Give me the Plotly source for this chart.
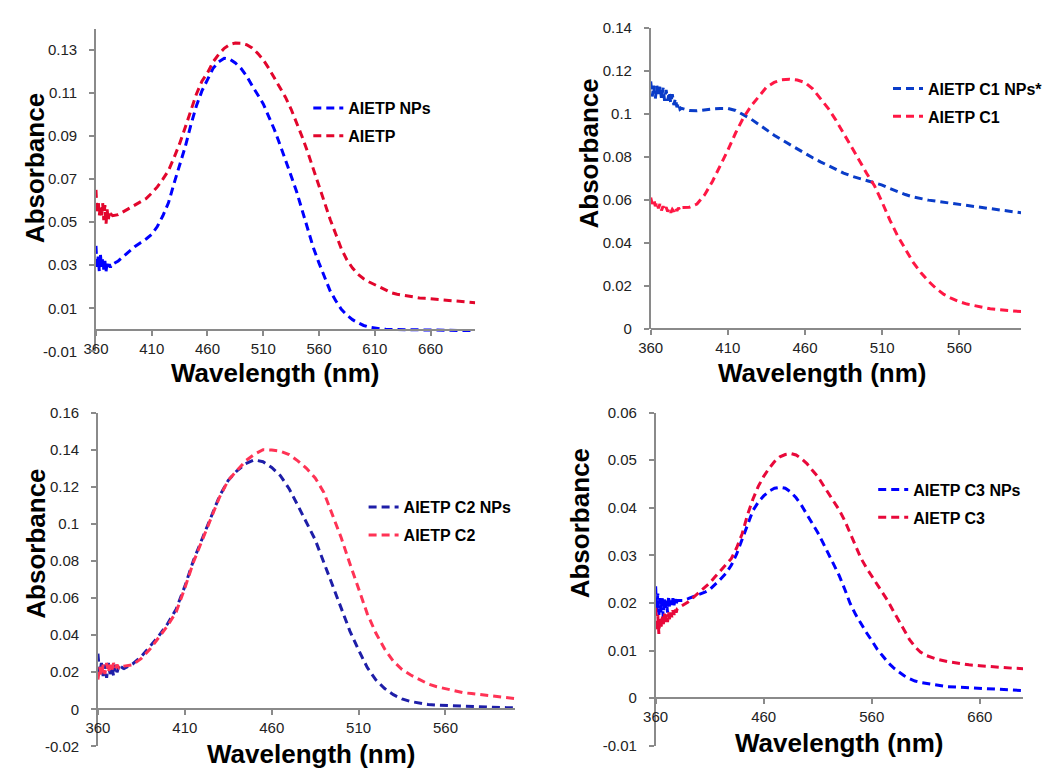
import plotly.graph_objects as go

W, H = 1049, 773

# ---------------- data ----------------
# Panel 1: AIETP NPs / AIETP
p1_np_wl = [360, 361, 362, 363, 364, 365, 366, 367, 368, 369, 370, 371, 372, 373, 374,
            375, 380, 385, 390, 395, 400, 405, 410, 415, 420, 425, 430, 435, 440, 445, 450,
            455, 460, 465, 470, 475, 480, 485, 490, 495, 500, 505, 510, 515, 520, 525, 530,
            535, 540, 545, 550, 555, 560, 565, 570, 575, 580, 585, 590, 595, 600, 605, 610,
            615, 620, 630, 640, 650, 660, 670, 680, 690, 700]
p1_np_abs = [0.039, 0.029, 0.034, 0.027, 0.035, 0.029, 0.033, 0.028, 0.032, 0.027, 0.031, 0.029, 0.0305, 0.029, 0.0305,
             0.0305, 0.032, 0.0343, 0.0366, 0.0387, 0.0405, 0.0422, 0.0444, 0.048, 0.053, 0.059, 0.068, 0.0765, 0.085, 0.095, 0.104,
             0.111, 0.1164, 0.1215, 0.1245, 0.1262, 0.1258, 0.124, 0.1215, 0.118, 0.1135, 0.109, 0.105, 0.099, 0.093, 0.086, 0.079,
             0.0715, 0.064, 0.055, 0.046, 0.038, 0.031, 0.024, 0.018, 0.0135, 0.0095, 0.0068, 0.0047, 0.0032, 0.002, 0.0012, 0.0007,
             0.0004, 0.0002, 0.0001, 0.0, -0.0001, -0.0002, -0.0003, -0.0003, -0.0004, -0.0004]
p1_wl = [360, 361, 362, 363, 364, 365, 366, 367, 368, 369, 370, 371, 372, 373, 374,
         375, 380, 385, 390, 395, 400, 405, 410, 415, 420, 425, 430, 435, 440, 445, 450,
         455, 460, 465, 470, 475, 480, 485, 490, 495, 500, 505, 510, 515, 520, 525, 530,
         535, 540, 545, 550, 555, 560, 565, 570, 575, 580, 585, 590, 595, 600, 605, 610,
         615, 620, 625, 630, 635, 640, 645, 650, 655, 660, 665, 670, 675, 680, 685, 690, 695, 700]
p1_abs = [0.065, 0.054, 0.060, 0.053, 0.058, 0.052, 0.059, 0.051, 0.058, 0.049, 0.056, 0.051, 0.054, 0.052, 0.0535,
          0.053, 0.0535, 0.055, 0.0565, 0.058, 0.0595, 0.061, 0.0635, 0.0664, 0.070, 0.074, 0.080, 0.0865, 0.094, 0.102, 0.1095,
          0.1155, 0.1194, 0.1245, 0.128, 0.1308, 0.1326, 0.1333, 0.1332, 0.1325, 0.131, 0.1285, 0.1255, 0.1215, 0.117, 0.1125, 0.108,
          0.1025, 0.0962, 0.0895, 0.0823, 0.0745, 0.067, 0.0587, 0.0513, 0.0445, 0.0376, 0.0325, 0.0287, 0.0258, 0.0237, 0.0222, 0.0209,
          0.0195, 0.0182, 0.0172, 0.0165, 0.016, 0.0155, 0.0151, 0.0148, 0.0146, 0.0144, 0.0142, 0.014, 0.0138, 0.0136, 0.0134, 0.0131, 0.0129, 0.0126]

# Panel 2: AIETP C1 NPs* / AIETP C1
p2_wl = [360, 361, 362, 363, 364, 365, 366, 367, 368, 369, 370, 371, 372, 373, 374, 375, 376, 377, 378, 379, 380,
         385, 390, 395, 400, 405, 410, 415, 420, 425, 430, 435, 440, 445, 450, 455, 460, 465, 470, 475, 480,
         485, 490, 495, 500, 505, 510, 515, 520, 525, 530, 535, 540, 545, 550, 555, 560, 565, 570, 575, 580,
         585, 590, 595, 600]
p2_np_abs = [0.115, 0.108, 0.113, 0.107, 0.113, 0.108, 0.113, 0.107, 0.112, 0.106, 0.111, 0.106, 0.110, 0.105, 0.109, 0.104, 0.107, 0.103, 0.105, 0.102, 0.1025,
             0.1015, 0.1013, 0.1018, 0.1022, 0.1024, 0.1024, 0.1015, 0.0995, 0.0975, 0.095, 0.0923, 0.09, 0.0878, 0.0857, 0.0835, 0.0815, 0.0795, 0.0776, 0.0758, 0.0741,
             0.0724, 0.071, 0.0699, 0.069, 0.068, 0.0668, 0.0652, 0.0637, 0.0624, 0.0613, 0.0605, 0.0598, 0.0593, 0.0588, 0.0584, 0.058, 0.0575, 0.057, 0.0564, 0.0559,
             0.0554, 0.0548, 0.0543, 0.0539]
p2_abs = [0.061, 0.058, 0.060, 0.057, 0.059, 0.056, 0.058, 0.055, 0.057, 0.055, 0.0565, 0.0545, 0.056, 0.054, 0.0555, 0.0545, 0.0565, 0.0548, 0.0562, 0.055, 0.0563,
          0.0565, 0.058, 0.0623, 0.0685, 0.0755, 0.083, 0.091, 0.098, 0.1035, 0.108, 0.1123, 0.1145, 0.1157, 0.116, 0.1156, 0.1145, 0.1115, 0.107, 0.1025, 0.097,
          0.091, 0.0845, 0.0785, 0.0722, 0.0665, 0.0588, 0.0505, 0.0432, 0.037, 0.031, 0.0262, 0.0221, 0.0187, 0.016, 0.0141, 0.0126, 0.0115, 0.0107, 0.0099, 0.0093,
          0.0089, 0.0085, 0.0082, 0.008]

# Panel 3: AIETP C2 NPs / AIETP C2
p3_wl = [360, 361, 362, 363, 364, 365, 366, 367, 368, 369, 370, 371, 372, 373, 374, 375,
         380, 385, 390, 395, 400, 405, 410, 415, 420, 425, 430, 435, 440, 445, 450, 455, 460,
         465, 470, 475, 480, 485, 490, 495, 500, 505, 510, 515, 520, 525, 530, 535, 540,
         545, 550, 555, 560, 565, 570, 575, 580, 585, 590, 595, 600]
p3_np_abs = [0.030, 0.019, 0.025, 0.018, 0.024, 0.017, 0.025, 0.019, 0.023, 0.018, 0.024, 0.020, 0.023, 0.021, 0.0225, 0.022,
             0.0245, 0.0285, 0.034, 0.0395, 0.046, 0.054, 0.0663, 0.0804, 0.092, 0.1035, 0.115, 0.1235, 0.1286, 0.1325, 0.1345, 0.1335, 0.1304,
             0.126, 0.119, 0.110, 0.101, 0.0915, 0.0792, 0.0665, 0.054, 0.0422, 0.032, 0.0225, 0.0158, 0.0112, 0.0079, 0.0056, 0.0042,
             0.0033, 0.0026, 0.0023, 0.0021, 0.0018, 0.0016, 0.0014, 0.0013, 0.0012, 0.001, 0.0009, 0.0009]
p3_abs = [0.016, 0.023, 0.018, 0.024, 0.019, 0.025, 0.020, 0.024, 0.021, 0.025, 0.022, 0.024, 0.0225, 0.0235, 0.023, 0.0233,
          0.024, 0.0275, 0.0325, 0.0385, 0.045, 0.0525, 0.0654, 0.0795, 0.0915, 0.103, 0.1145, 0.1235, 0.1286, 0.134, 0.1375, 0.140, 0.1398,
          0.1392, 0.1374, 0.134, 0.130, 0.1248, 0.117, 0.1045, 0.0925, 0.0785, 0.0645, 0.0515, 0.041, 0.0325, 0.026, 0.0215, 0.0185,
          0.016, 0.0137, 0.0122, 0.011, 0.0099, 0.009, 0.0085, 0.0079, 0.0073, 0.0067, 0.0062, 0.0058]

# Panel 4: AIETP C3 NPs / AIETP C3
p4_wl = [360, 361, 362, 363, 364, 365, 366, 367, 368, 369, 370, 371, 372, 373, 374, 375, 376, 377, 378, 379, 380,
         385, 390, 395, 400, 405, 410, 415, 420, 425, 430, 435, 440, 445, 450, 455, 460, 465, 470, 475, 480,
         485, 490, 495, 500, 505, 510, 515, 520, 525, 530, 535, 540, 545, 550, 555, 560, 565, 570, 575, 580,
         585, 590, 595, 600, 605, 610, 620, 630, 640, 650, 660, 670, 680, 690, 700]
p4_np_abs = [0.0235, 0.018, 0.022, 0.0175, 0.021, 0.018, 0.0215, 0.017, 0.021, 0.0185, 0.0205, 0.018, 0.0215, 0.019, 0.0205, 0.019, 0.021, 0.0195, 0.0208, 0.0198, 0.0205,
             0.0205, 0.0209, 0.0213, 0.0217, 0.0222, 0.0228, 0.0238, 0.025, 0.0262, 0.0279, 0.0303, 0.0332, 0.0365, 0.0394, 0.0412, 0.0425, 0.0435, 0.0441, 0.0443, 0.0441,
             0.0433, 0.0421, 0.0405, 0.0386, 0.0368, 0.0348, 0.0326, 0.0303, 0.028, 0.0257, 0.0229, 0.0199, 0.0176, 0.0156, 0.0138, 0.0121, 0.0103, 0.0089, 0.0075, 0.0064,
             0.0055, 0.0047, 0.0041, 0.0036, 0.0033, 0.0031, 0.0027, 0.0024, 0.0023, 0.0022, 0.0021, 0.002, 0.0019, 0.0017, 0.0016]
p4_abs = [0.019, 0.014, 0.0175, 0.0135, 0.017, 0.0145, 0.0175, 0.015, 0.018, 0.0155, 0.0178, 0.016, 0.018, 0.0165, 0.018, 0.017, 0.0185, 0.0175, 0.0188, 0.018, 0.0188,
          0.0195, 0.0202, 0.0212, 0.0222, 0.0233, 0.0242, 0.0255, 0.0268, 0.028, 0.0293, 0.0316, 0.0345, 0.0385, 0.0418, 0.0445, 0.0466, 0.0483, 0.0497, 0.0507, 0.0512,
          0.0514, 0.0511, 0.0503, 0.0493, 0.0479, 0.0466, 0.0448, 0.0431, 0.0413, 0.0395, 0.0373, 0.0346, 0.0318, 0.0294, 0.0274, 0.0257, 0.024, 0.0222, 0.0204, 0.0183,
          0.0162, 0.0142, 0.0123, 0.0108, 0.0097, 0.009, 0.0082, 0.0077, 0.0073, 0.007, 0.0068, 0.0066, 0.0065, 0.0063, 0.0062]

names = [("AIETP NPs", "AIETP"), ("AIETP C1 NPs*", "AIETP C1"),
         ("AIETP C2 NPs", "AIETP C2"), ("AIETP C3 NPs", "AIETP C3")]

# tick labels
p1_xticks = [360, 410, 460, 510, 560, 610, 660]
p1_yticks = [-0.01, 0.01, 0.03, 0.05, 0.07, 0.09, 0.11, 0.13]
p1_yticktext = ["-0.01", "0.01", "0.03", "0.05", "0.07", "0.09", "0.11", "0.13"]
p2_xticks = [360, 410, 460, 510, 560]
p2_yticks = [0, 0.02, 0.04, 0.06, 0.08, 0.1, 0.12, 0.14]
p2_yticktext = ["0", "0.02", "0.04", "0.06", "0.08", "0.1", "0.12", "0.14"]
p3_xticks = [360, 410, 460, 510, 560]
p3_yticks = [-0.02, 0, 0.02, 0.04, 0.06, 0.08, 0.1, 0.12, 0.14, 0.16]
p3_yticktext = ["-0.02", "0", "0.02", "0.04", "0.06", "0.08", "0.1", "0.12", "0.14", "0.16"]
p4_xticks = [360, 460, 560, 660]
p4_yticks = [-0.01, 0, 0.01, 0.02, 0.03, 0.04, 0.05, 0.06]
p4_yticktext = ["-0.01", "0", "0.01", "0.02", "0.03", "0.04", "0.05", "0.06"]

# ---------------- styling / layout ----------------
def fx(px):
    return px / W

def fy(py):
    return 1 - py / H

panels = [
    dict(xdom=(84, 468), ydom=(350, 20), xr=(360, 700), yr=(-0.01, 0.14),
         xt=p1_xticks, yt=p1_yticks, ytt=p1_yticktext,
         data=((p1_np_wl, p1_np_abs), (p1_wl, p1_abs)),
         colors=("#0000FF", "#E2062C"),
         ylab=(23, 163), xlab=(265, 372), leg=(299, 84)),
    dict(xdom=(645.7, 1020.7), ydom=(327, 19), xr=(360, 600), yr=(0, 0.14),
         xt=p2_xticks, yt=p2_yticks, ytt=p2_yticktext,
         data=((p2_wl, p2_np_abs), (p2_wl, p2_abs)),
         colors=("#0A3CC8", "#FF1744"),
         ylab=(583, 148), xlab=(819, 372), leg=(886, 64)),
    dict(xdom=(86, 508.3), ydom=(754, 412.7), xr=(360, 600), yr=(-0.02, 0.16),
         xt=p3_xticks, yt=p3_yticks, ytt=p3_yticktext,
         data=((p3_wl, p3_np_abs), (p3_wl, p3_abs)),
         colors=("#1E1EA8", "#FF3355"),
         ylab=(23, 547), xlab=(302, 762), leg=(355, 492)),
    dict(xdom=(650.7, 1022.7), ydom=(753.3, 412.7), xr=(360, 700), yr=(-0.01, 0.06),
         xt=p4_xticks, yt=p4_yticks, ytt=p4_yticktext,
         data=((p4_wl, p4_np_abs), (p4_wl, p4_abs)),
         colors=("#0000FF", "#E8083A"),
         ylab=(575, 526), xlab=(836, 751), leg=(871, 474)),
]

AXIS_COLOR = "#8a8a8a"
TICK_FONT = dict(family="Liberation Sans, Arial, sans-serif", size=15, color="#222222")
TITLE_FONT = dict(family="Liberation Sans, Arial, sans-serif", size=26, color="#000000")
LEG_FONT = dict(family="Liberation Sans, Arial, sans-serif", size=16, color="#000000", weight="bold")

fig = go.Figure()
layout = dict(width=W, height=H, margin=dict(l=0, r=0, t=0, b=0),
              paper_bgcolor="white", plot_bgcolor="white", showlegend=True,
              annotations=[])

for i, p in enumerate(panels, start=1):
    sfx = "" if i == 1 else str(i)
    legname = "legend" if i == 1 else f"legend{i}"
    for j, ((wl, ab), col, nm) in enumerate(zip(p["data"], p["colors"], names[i - 1])):
        fig.add_trace(go.Scatter(
            x=wl, y=ab, mode="lines", name=nm,
            line=dict(color=col, width=3, dash="8px,5px"),
            xaxis=f"x{sfx}", yaxis=f"y{sfx}",
            legend=legname, legendgroup=f"g{i}{j}"))
    yd0, yd1 = fy(p["ydom"][0]), fy(p["ydom"][1])
    ymin, ymax = p["yr"]
    xpos = yd0 + (0 - ymin) / (ymax - ymin) * (yd1 - yd0)
    layout[f"xaxis{sfx}"] = dict(
        domain=[fx(p["xdom"][0]), fx(p["xdom"][1])], range=list(p["xr"]),
        anchor="free", position=xpos,
        tickmode="array", tickvals=p["xt"], ticktext=[str(v) for v in p["xt"]],
        showline=True, linecolor=AXIS_COLOR, linewidth=1.5,
        ticks="outside", ticklen=5, tickwidth=1.5, tickcolor=AXIS_COLOR,
        showgrid=False, zeroline=False, tickfont=TICK_FONT, ticklabelstandoff=0)
    layout[f"yaxis{sfx}"] = dict(
        domain=[yd0, yd1], range=list(p["yr"]), anchor=f"x{sfx}",
        tickmode="array", tickvals=p["yt"], ticktext=p["ytt"],
        showline=True, linecolor=AXIS_COLOR, linewidth=1.5,
        ticks="outside", ticklen=5, tickwidth=1.5, tickcolor=AXIS_COLOR,
        showgrid=False, zeroline=False, tickfont=TICK_FONT, ticklabelstandoff=9)
    layout[legname] = dict(x=fx(p["leg"][0]), y=fy(p["leg"][1]), xanchor="left", yanchor="top",
                           font=LEG_FONT, bgcolor="rgba(0,0,0,0)", borderwidth=0,
                           traceorder="grouped", tracegroupgap=4)
    layout["annotations"].append(dict(
        text="<b>Absorbance</b>", x=fx(p["ylab"][0]), y=fy(p["ylab"][1]),
        xref="paper", yref="paper", textangle=-90, showarrow=False,
        xanchor="center", yanchor="middle", font=TITLE_FONT))
    layout["annotations"].append(dict(
        text="<b>Wavelength (nm)</b>", x=fx(p["xlab"][0]), y=fy(p["xlab"][1]),
        xref="paper", yref="paper", showarrow=False,
        xanchor="center", yanchor="middle", font=TITLE_FONT))

fig.update_layout(**layout)
fig.write_html("out.html")
